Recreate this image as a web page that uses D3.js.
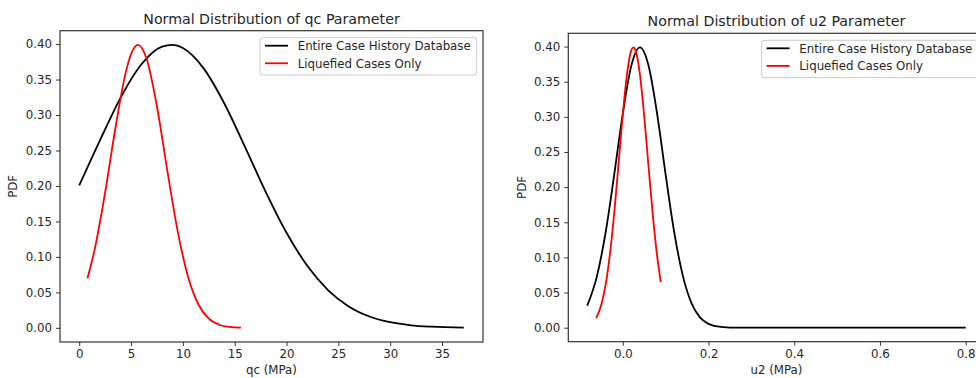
<!DOCTYPE html>
<html><head><meta charset="utf-8">
<script src="https://cdn.jsdelivr.net/npm/d3@7"></script>
<style>
body{margin:0;background:#fff;overflow:hidden}
svg{display:block;font-family:"DejaVu Sans",sans-serif}
</style>
</head><body>
<svg id="c" width="976" height="378"></svg>
<script>
// ---- data ----
const seriesNames = ["Entire Case History Database", "Liquefied Cases Only"];

const qcEntireX = [0, 2, 4, 6, 8, 9, 10, 12, 14, 16, 18, 20, 22, 24, 26, 28, 30, 32, 34, 37.1];
const qcEntireY = [0.2007, 0.2643, 0.3246, 0.3715, 0.3964, 0.3988, 0.3944, 0.3657, 0.3162, 0.2548, 0.1914, 0.1341, 0.0875, 0.0533, 0.0302, 0.0160, 0.0079, 0.0036, 0.0016, 0.0004];

const qcLiqX = [0.8, 1.5, 2.5, 3.5, 4.5, 5.0, 5.67, 6.5, 7.5, 8.5, 9.5, 10.5, 11.5, 12.5, 13.5, 14.5, 15.6];
const qcLiqY = [0.0700, 0.1113, 0.1908, 0.2824, 0.3608, 0.3860, 0.3989, 0.3793, 0.3120, 0.2216, 0.1360, 0.0720, 0.0329, 0.0130, 0.0044, 0.0013, 0.0003];

const u2EntireX = [-0.083, -0.06, -0.04, -0.02, 0.0, 0.02, 0.04, 0.06, 0.08, 0.10, 0.12, 0.14, 0.16, 0.18, 0.20, 0.22, 0.25, 0.30, 0.40, 0.50, 0.60, 0.70, 0.80];
const u2EntireY = [0.0312, 0.0741, 0.1358, 0.2176, 0.3047, 0.3730, 0.3989, 0.3730, 0.3047, 0.2176, 0.1358, 0.0741, 0.0353, 0.0147, 0.0054, 0.0017, 0.0002, 0.0, 0.0, 0.0, 0.0, 0.0, 0.0];

const u2LiqX = [-0.0623, -0.05, -0.04, -0.03, -0.02, -0.01, 0.0, 0.01, 0.02, 0.025, 0.03, 0.04, 0.05, 0.06, 0.07, 0.08, 0.0887];
const u2LiqY = [0.0136, 0.0330, 0.0614, 0.1047, 0.1631, 0.2326, 0.3033, 0.3618, 0.3949, 0.3989, 0.3942, 0.3599, 0.3006, 0.2297, 0.1605, 0.1026, 0.0647];

const yTicks = [0.00, 0.05, 0.10, 0.15, 0.20, 0.25, 0.30, 0.35, 0.40];
const qcTicks = [0, 5, 10, 15, 20, 25, 30, 35];
const u2Ticks = [0.0, 0.2, 0.4, 0.6, 0.8];

// ---- layout / style ----
const colors = ["#000000", "#ff0000"];
const svg = d3.select("#c");
const TXT = "#262626";

const panels = [
  {title: "Normal Distribution of qc Parameter", xlabel: "qc (MPa)",
   left: 60, top: 30.7, width: 423, height: 311.3,
   xDomain: [-1.855, 38.955], xTicks: qcTicks, xFmt: d3.format("d"),
   series: [[qcEntireX, qcEntireY], [qcLiqX, qcLiqY]]},
  {title: "Normal Distribution of u2 Parameter", xlabel: "u2 (MPa)",
   left: 568.3, top: 33.3, width: 416.3, height: 308.4,
   xDomain: [-0.12715, 0.84415], xTicks: u2Ticks, xFmt: d3.format(".1f"),
   series: [[u2EntireX, u2EntireY], [u2LiqX, u2LiqY]]}
];

panels.forEach(p => {
  const x = d3.scaleLinear().domain(p.xDomain).range([p.left, p.left + p.width]);
  const y = d3.scaleLinear().domain([-0.01995, 0.41885]).range([p.top + p.height, p.top]);
  const g = svg.append("g");

  // curves
  const line = d3.line().x(d => x(d[0])).y(d => y(d[1])).curve(d3.curveMonotoneX);
  p.series.forEach((s, i) => {
    const pts = s[0].map((v, k) => [v, s[1][k]]);
    g.append("path").attr("d", line(pts)).attr("fill", "none")
      .attr("stroke", colors[i]).attr("stroke-width", 1.8).attr("stroke-linejoin", "round");
  });

  // axes
  const xAxis = d3.axisBottom(x).tickValues(p.xTicks).tickFormat(p.xFmt).tickSize(4).tickPadding(4);
  const yAxis = d3.axisLeft(y).tickValues(yTicks).tickFormat(d3.format(".2f")).tickSize(4).tickPadding(4);
  const gx = g.append("g").attr("transform", `translate(0,${p.top + p.height})`).call(xAxis);
  const gy = g.append("g").attr("transform", `translate(${p.left},0)`).call(yAxis);
  [gx, gy].forEach(a => {
    a.select(".domain").remove();
    a.selectAll(".tick line").attr("stroke", "#333").attr("stroke-width", 1);
    a.selectAll(".tick text").attr("fill", TXT).attr("font-size", "11.8px")
      .attr("font-family", "DejaVu Sans");
  });

  // frame
  g.append("rect").attr("x", p.left).attr("y", p.top).attr("width", p.width).attr("height", p.height)
    .attr("fill", "none").attr("stroke", "#333").attr("stroke-width", 1.2);

  // title & labels
  g.append("text").attr("x", p.left + p.width / 2).attr("y", p.top - 7)
    .attr("text-anchor", "middle").attr("font-size", "14.2px").attr("fill", TXT).text(p.title);
  g.append("text").attr("x", p.left + p.width / 2).attr("y", p.top + p.height + 32)
    .attr("text-anchor", "middle").attr("font-size", "11.8px").attr("fill", TXT).text(p.xlabel);
  g.append("text").attr("transform", `translate(${p.left - 42.6},${p.top + p.height / 2}) rotate(-90)`)
    .attr("text-anchor", "middle").attr("font-size", "11.8px").attr("fill", TXT).text("PDF");

  // legend
  const lx = p.left + p.width - 6.3 - 216.7, ly = p.top + 7;
  const lg = g.append("g");
  lg.append("rect").attr("x", lx).attr("y", ly).attr("width", 216.7).attr("height", 37.3)
    .attr("rx", 2.5).attr("fill", "#fff").attr("fill-opacity", 0.8)
    .attr("stroke", "#cccccc").attr("stroke-width", 1);
  seriesNames.forEach((name, i) => {
    const yy = ly + 8 + i * 17.6;
    lg.append("line").attr("x1", lx + 5).attr("x2", lx + 28).attr("y1", yy).attr("y2", yy)
      .attr("stroke", colors[i]).attr("stroke-width", 1.8);
    lg.append("text").attr("x", lx + 37.7).attr("y", yy + 4.2).attr("font-size", "11.8px")
      .attr("fill", TXT).text(name);
  });
});
</script>
</body></html>
